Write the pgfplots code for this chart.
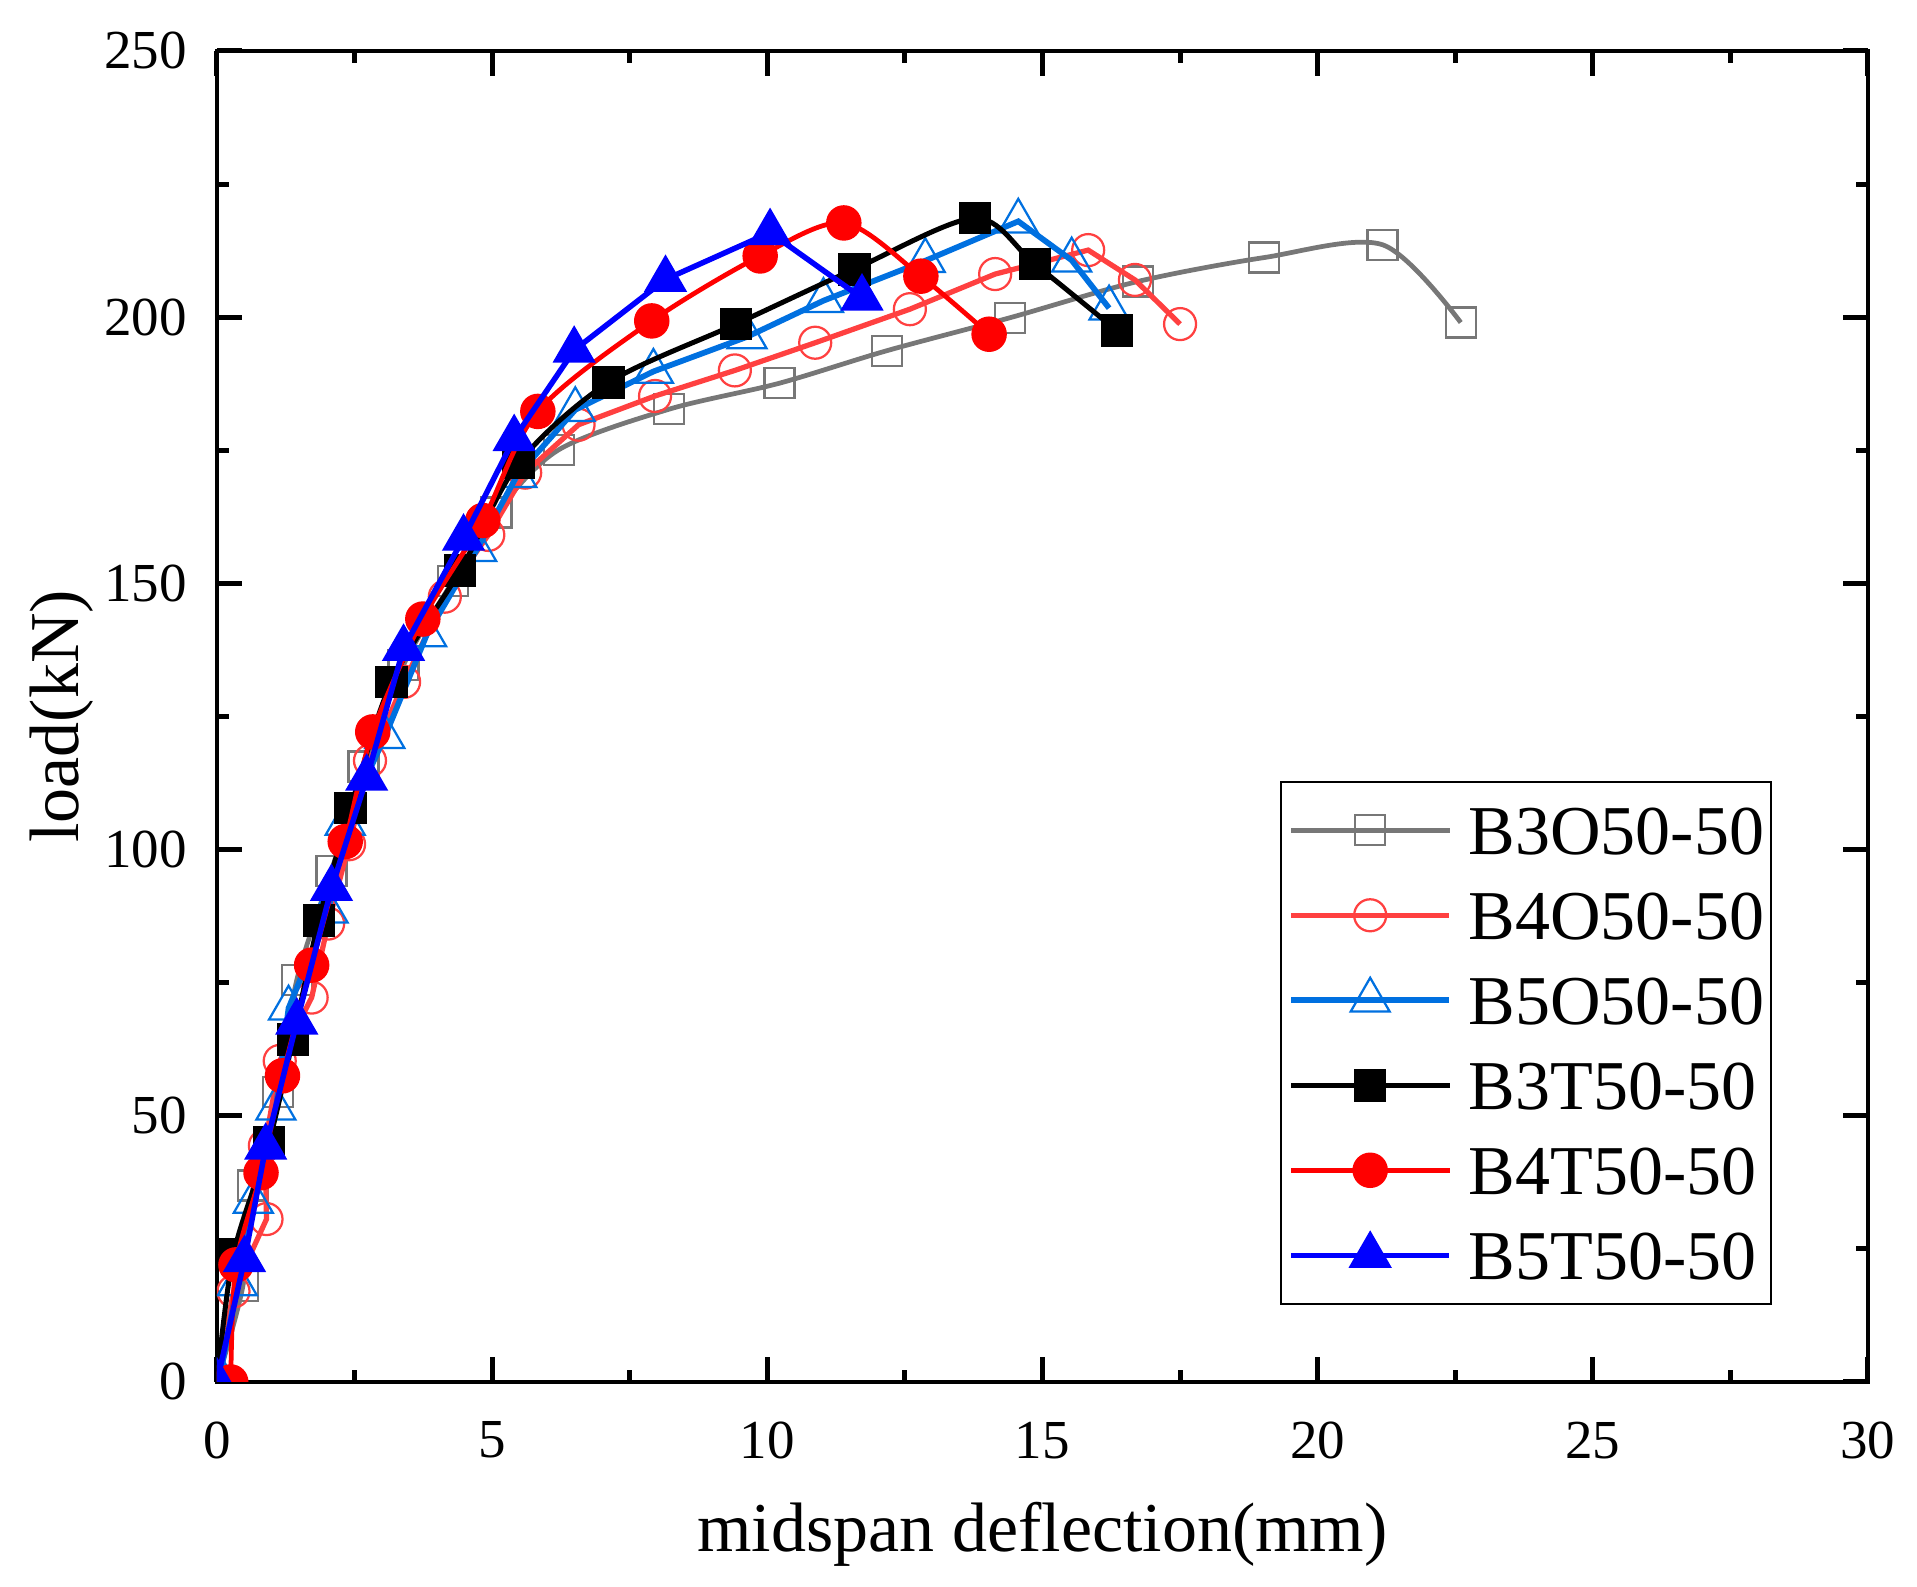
\documentclass[border=0pt]{standalone}
\usepackage{fontspec}
\setmainfont{Liberation Serif}
\usepackage{pgfplots}
\pgfplotsset{compat=1.18}
\definecolor{cgray}{RGB}{119,119,119}
\definecolor{cred}{RGB}{255,64,64}
\definecolor{cblue}{RGB}{0,112,224}
\definecolor{fred}{RGB}{255,0,0}
\definecolor{fblue}{RGB}{0,0,255}
\begin{document}
\begin{tikzpicture}
\useasboundingbox (-43.4pt,-41pt) rectangle (340pt,276.4pt);
\begin{axis}[
  at={(0pt,0pt)}, anchor=south west,
  scale only axis, width=330.2pt, height=266.2pt,
  xmin=0, xmax=30, ymin=0, ymax=250,
  xtick={0,5,...,30}, ytick={0,50,...,250},
  minor x tick num=1, minor y tick num=1,
  tick align=inside,
  major tick length=5pt, minor tick length=2.4pt,
  tick style={black, line width=1pt},
  axis line style={line width=0.95pt},
  /pgf/number format/assume math mode=true,
  tick label style={font=\fontsize{11}{13}\selectfont},
  xticklabel style={inner sep=0pt, yshift=-7.8pt},
  yticklabel style={inner sep=0pt, xshift=-5.8pt},
  xlabel={midspan deflection(mm)}, ylabel={load(kN)},
  label style={font=\fontsize{14}{16.8}\selectfont},
  xlabel style={at={(axis description cs:0.5,-0.1277)}, anchor=base},
  ylabel style={at={(axis description cs:-0.0836,0.5)}, anchor=base},
  clip marker paths=true,
  legend cell align=left,
  legend image code/.code={\path[draw=none,fill=none] (0pt,-4.75pt) rectangle (31.6pt,4.75pt);
    \draw[mark repeat=2,mark phase=2,#1] plot coordinates {(0pt,0pt) (15.8pt,0pt) (31.6pt,0pt)};},
  legend style={at={(axis description cs:0.942,0.0579)}, anchor=south east,
    draw=black, line width=0.45pt, font=\fontsize{14}{16.8}\selectfont,
    inner xsep=1.4pt, inner ysep=4.95pt, row sep=7.5pt, column sep=3.3pt,
    nodes={inner sep=0pt, text height=9.5pt, text depth=0pt}},
]
\addplot[cgray, line width=0.95pt, smooth, tension=0.5, mark=square, mark size=3.0pt,
  mark options={fill=white, draw=cgray, line width=0.45pt}] coordinates {
(0,0) (0.47,18.0) (0.66,36.9) (1.11,54.4) (1.45,75.5) (2.08,96.0) (2.66,115.6)
(3.39,134.7) (4.29,150.5) (5.08,163.3) (6.21,175.1) (8.21,182.7) (10.22,187.6)
(12.17,193.7) (14.41,199.9) (16.73,206.7) (19.03,211.2) (21.18,213.6) (22.60,199.0)
};
\addlegendentry{B3O50-50}
\addplot[cred, line width=1.05pt, mark=o, mark size=3.2pt,
  mark options={fill=white, draw=cred, line width=0.45pt}] coordinates {
(0,0) (0.30,17.0) (0.90,30.6) (0.87,44.4) (1.14,60.3) (1.72,72.2) (2.02,86.1)
(2.40,101.0) (2.78,116.7) (3.40,131.5) (4.14,147.5) (4.93,159.1) (5.60,170.8)
(6.57,179.8) (7.96,185.2) (9.41,190.0) (10.87,195.2) (12.59,201.5) (14.14,208.1)
(15.83,212.6) (16.68,207.0) (17.50,198.7)
};
\addlegendentry{B4O50-50}
\addplot[cblue, line width=1.15pt, mark=triangle, mark size=4.5pt,
  mark options={fill=white, draw=cblue, line width=0.45pt}] coordinates {
(0.05,1) (0.37,18.4) (0.66,33.9) (1.07,51.4) (1.30,70.2) (2.02,88.4) (2.33,104.9)
(3.05,121.2) (3.81,140.3) (4.72,156.3) (5.45,170.2) (6.51,182.6) (7.93,189.8)
(9.63,196.3) (11.02,203.1) (12.87,210.6) (14.56,218.0) (15.53,210.7) (16.21,201.7)
};
\addlegendentry{B5O50-50}
\addplot[black, line width=1.0pt, smooth, tension=0.5, mark=square*, mark size=3.1pt,
  mark options={fill=black, draw=black, line width=0.3pt}] coordinates {
(0,0) (0.30,24.0) (0.945,45.1) (1.38,64.3) (1.85,86.7) (2.43,107.8) (3.17,131.5)
(4.42,152.4) (5.48,172.6) (7.11,187.7) (9.43,198.7) (11.58,209.0) (13.77,218.6)
(14.86,210.0) (16.35,197.5)
};
\addlegendentry{B3T50-50}
\addplot[fred, line width=0.95pt, smooth, tension=0.5, mark=*, mark size=3.4pt,
  mark options={fill=fred, draw=fred, line width=0.3pt}] coordinates {
(0.25,0) (0.345,22.0) (0.80,39.3) (1.19,57.5) (1.72,78.3) (2.33,101.5) (2.83,122.1)
(3.74,143.3) (4.83,161.8) (5.83,182.3) (7.90,199.3) (9.87,211.5) (11.39,217.7)
(12.79,207.7) (14.03,196.8)
};
\addlegendentry{B4T50-50}
\addplot[fblue, line width=1.1pt, mark=triangle*, mark size=4.7pt,
  mark options={fill=fblue, draw=fblue, line width=0.3pt}] coordinates {
(0,0) (0.50,23.0) (0.885,44.1) (1.45,67.6) (2.08,92.7) (2.72,113.4) (3.39,137.8)
(4.48,158.5) (5.40,177.2) (6.49,193.8) (8.15,207.1) (10.05,215.9) (11.72,203.6)
};
\addlegendentry{B5T50-50}
\end{axis}
\end{tikzpicture}
\end{document}
